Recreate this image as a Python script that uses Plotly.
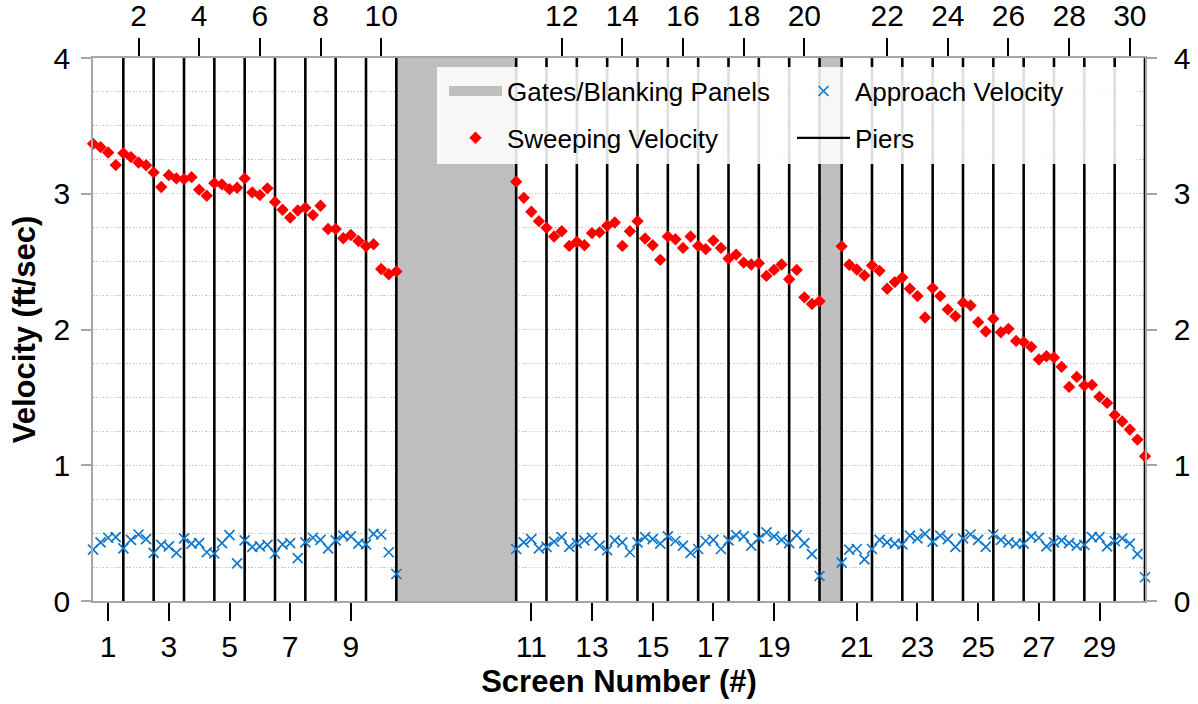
import plotly.graph_objects as go

# ---------------- data ----------------
sweeping_1_10 = [3.368, 3.343, 3.304, 3.211, 3.299, 3.270, 3.230, 3.210, 3.157, 3.050,
                 3.137, 3.113, 3.108, 3.122, 3.030, 2.985, 3.078, 3.069, 3.034, 3.044,
                 3.113, 3.010, 2.990, 3.040, 2.940, 2.882, 2.824, 2.877, 2.897, 2.843,
                 2.912, 2.740, 2.740, 2.672, 2.696, 2.652, 2.613, 2.628, 2.446, 2.407,
                 2.427]
sweeping_11_20 = [3.089, 2.970, 2.867, 2.798, 2.749, 2.685, 2.724, 2.616, 2.646, 2.621,
                  2.710, 2.715, 2.764, 2.788, 2.616, 2.724, 2.798, 2.670, 2.621, 2.513,
                  2.685, 2.665, 2.601, 2.685, 2.616, 2.592, 2.655, 2.601, 2.523, 2.552,
                  2.493, 2.479, 2.488, 2.395, 2.439, 2.479, 2.370, 2.439, 2.237, 2.188,
                  2.208]
sweeping_21_30 = [2.614, 2.477, 2.442, 2.398, 2.472, 2.432, 2.300, 2.349, 2.383, 2.300,
                  2.246, 2.088, 2.305, 2.246, 2.147, 2.098, 2.197, 2.177, 2.054, 1.985,
                  2.079, 1.980, 2.005, 1.916, 1.907, 1.872, 1.779, 1.803, 1.794, 1.725,
                  1.577, 1.651, 1.587, 1.592, 1.504, 1.459, 1.371, 1.322, 1.263, 1.189,
                  1.066]
approach_1_10 = [0.379, 0.432, 0.466, 0.471, 0.388, 0.451, 0.490, 0.456, 0.354, 0.413,
                 0.403, 0.354, 0.461, 0.422, 0.427, 0.359, 0.350, 0.427, 0.485, 0.277,
                 0.447, 0.398, 0.403, 0.413, 0.350, 0.417, 0.427, 0.316, 0.432, 0.466,
                 0.451, 0.388, 0.447, 0.481, 0.476, 0.422, 0.417, 0.495, 0.490, 0.359,
                 0.199]
approach_11_20 = [0.383, 0.432, 0.456, 0.388, 0.398, 0.437, 0.471, 0.398, 0.427, 0.447,
                  0.466, 0.408, 0.374, 0.447, 0.432, 0.359, 0.432, 0.471, 0.456, 0.422,
                  0.476, 0.442, 0.408, 0.354, 0.383, 0.442, 0.451, 0.383, 0.447, 0.485,
                  0.476, 0.408, 0.461, 0.505, 0.476, 0.451, 0.427, 0.485, 0.427, 0.345,
                  0.184]
approach_21_30 = [0.282, 0.379, 0.383, 0.306, 0.383, 0.451, 0.432, 0.422, 0.417, 0.481,
                  0.461, 0.495, 0.437, 0.481, 0.456, 0.398, 0.461, 0.490, 0.451, 0.398,
                  0.490, 0.451, 0.432, 0.422, 0.422, 0.476, 0.466, 0.403, 0.432, 0.447,
                  0.427, 0.408, 0.413, 0.471, 0.471, 0.403, 0.442, 0.461, 0.422, 0.345,
                  0.175]
bottom_tick_screens = [1, 3, 5, 7, 9, 11, 13, 15, 17, 19, 21, 23, 25, 27, 29]
top_tick_screens = [2, 4, 6, 8, 10, 12, 14, 16, 18, 20, 22, 24, 26, 28, 30]
y_ticks = [0, 1, 2, 3, 4]

# ---------------- layout geometry (screen-width units) ----------------
group_offsets = [0.0, 13.95, 24.68]   # start of screens 1, 11, 21
screens_per_group = 10
step = 0.25                            # measurement spacing within a screen
gate_spans = [(10.0, 13.95), (23.95, 24.68)]
x_max = 34.68

FONT = "Liberation Sans, Arial, sans-serif"

# plot-area pixel box (for paper-coordinate placement)
PL, PR, PT, PB = 93, 1145, 58, 601
PW, PH = PR - PL, PB - PT


def px_x(x):
    return (x - PL) / PW


def px_y(y):
    return (PB - y) / PH


def screen_center(n):
    g = (n - 1) // screens_per_group
    return group_offsets[g] + (n - 1) % screens_per_group + 0.5


def group_x(g, n):
    return [group_offsets[g] + i * step for i in range(n)]


sweep_groups = [sweeping_1_10, sweeping_11_20, sweeping_21_30]
appr_groups = [approach_1_10, approach_11_20, approach_21_30]

sx, sy, ax_, ay = [], [], [], []
for g in range(3):
    sx += group_x(g, len(sweep_groups[g])) + [None]
    sy += sweep_groups[g] + [None]
    ax_ += group_x(g, len(appr_groups[g])) + [None]
    ay += appr_groups[g] + [None]

# pier positions
pier_x, pier_y = [], []
for g, off in enumerate(group_offsets):
    start = 1 if g == 0 else 0
    for k in range(start, screens_per_group + 1):
        pier_x += [off + k, off + k, None]
        pier_y += [0, 4, None]

fig = go.Figure()

# gates / blanking panels
for (a, b) in gate_spans:
    fig.add_trace(go.Scatter(x=[a, b, b, a, a], y=[0, 0, 4, 4, 0], mode="none",
                             fill="toself", fillcolor="#bfbfbf", showlegend=False,
                             hoverinfo="skip"))

# piers
fig.add_trace(go.Scatter(x=pier_x, y=pier_y, mode="lines",
                         line=dict(color="black", width=2.6), showlegend=False,
                         hoverinfo="skip"))

# approach velocity
fig.add_trace(go.Scatter(x=ax_, y=ay, mode="markers", name="Approach Velocity",
                         marker=dict(symbol="x-thin", size=10, color="#0f78cc",
                                     line=dict(color="#0f78cc", width=1.7)),
                         cliponaxis=False, legend="legend2", legendgroup="b",
                         legendrank=1))

# sweeping velocity
fig.add_trace(go.Scatter(x=sx, y=sy, mode="markers", name="Sweeping Velocity",
                         marker=dict(symbol="diamond", size=9.5, color="#ff0000"),
                         cliponaxis=False, legend="legend", legendgroup="c",
                         legendrank=2))

# legend-only entries
fig.add_trace(go.Scatter(x=[None], y=[None], mode="lines", name="Gates/Blanking Panels",
                         line=dict(color="#bfbfbf", width=13), legend="legend",
                         legendgroup="a", legendrank=1))
fig.add_trace(go.Scatter(x=[None], y=[None], mode="lines", name="Piers",
                         line=dict(color="black", width=2.2), legend="legend2",
                         legendgroup="d", legendrank=2))

# dummy trace for the top / right axes
fig.add_trace(go.Scatter(x=[None], y=[None], xaxis="x2", yaxis="y2", showlegend=False,
                         hoverinfo="skip"))

axis_gray = "#a6a6a6"
grid_gray = "#c6c6c6"
grid_dash = "1.5px,1.8px"

fig.update_layout(
    width=1198, height=704,
    margin=dict(l=PL, r=1198 - PR, t=PT, b=704 - PB, autoexpand=False),
    paper_bgcolor="white", plot_bgcolor="white",
    font=dict(family=FONT, size=30, color="black"),
    showlegend=True,
    xaxis=dict(range=[0, x_max], tickmode="array", automargin=False,
               tickvals=[screen_center(n) for n in bottom_tick_screens],
               ticktext=[str(n) for n in bottom_tick_screens],
               ticks="outside", ticklen=18, tickwidth=2, tickcolor="black",
               showgrid=False, zeroline=False, showline=True, linecolor=axis_gray,
               linewidth=1.5, tickfont=dict(size=30),
               title=dict(text="Screen Number (#)",
                          font=dict(size=31, weight="bold"), standoff=9)),
    xaxis2=dict(range=[0, x_max], overlaying="x", side="top", anchor="y2",
                tickmode="array", automargin=False,
                tickvals=[screen_center(n) for n in top_tick_screens],
                ticktext=[str(n) for n in top_tick_screens],
                ticks="outside", ticklen=18, tickwidth=2, tickcolor="black",
                showgrid=False, zeroline=False, showline=True, linecolor=axis_gray,
                linewidth=1.5, tickfont=dict(size=30)),
    yaxis=dict(range=[0, 4], tickmode="array", tickvals=y_ticks, automargin=False,
               ticks="outside", ticklen=10, tickwidth=1.5, tickcolor=axis_gray,
               ticklabelstandoff=5,
               showgrid=True, gridcolor=grid_gray, griddash=grid_dash, gridwidth=1.3,
               minor=dict(dtick=0.25, showgrid=True, gridcolor=grid_gray,
                          griddash=grid_dash, gridwidth=1.3),
               zeroline=False, showline=True, linecolor=axis_gray, linewidth=1.5,
               tickfont=dict(size=30),
               title=dict(text="Velocity (ft/sec)",
                          font=dict(size=31, weight="bold"), standoff=9)),
    yaxis2=dict(range=[0, 4], overlaying="y", side="right", anchor="x2",
                tickmode="array", tickvals=y_ticks, automargin=False,
                ticks="outside", ticklen=10, tickwidth=1.5, tickcolor=axis_gray,
                ticklabelstandoff=11,
                showgrid=False, zeroline=False, showline=True, linecolor=axis_gray,
                linewidth=1.5, tickfont=dict(size=30)),
    legend=dict(x=px_x(444), y=px_y(67.6),
                xanchor="left", yanchor="top", bgcolor="rgba(0,0,0,0)",
                borderwidth=0, itemwidth=53, traceorder="grouped",
                tracegroupgap=10, font=dict(size=26, family=FONT)),
    legend2=dict(x=px_x(792), y=px_y(67.6),
                 xanchor="left", yanchor="top", bgcolor="rgba(0,0,0,0)",
                 borderwidth=0, itemwidth=53, traceorder="grouped",
                 tracegroupgap=10, font=dict(size=26, family=FONT)),
    shapes=[dict(type="rect", xref="paper", yref="paper",
                 x0=px_x(437), x1=px_x(1136), y0=px_y(164), y1=px_y(67),
                 fillcolor="rgba(255,255,255,0.87)", line=dict(width=0),
                 layer="above")],
)

fig.write_html("out.html",
               config={"displayModeBar": False},
               post_script="document.body.style.margin='0';"
                           "document.body.style.padding='0';")
